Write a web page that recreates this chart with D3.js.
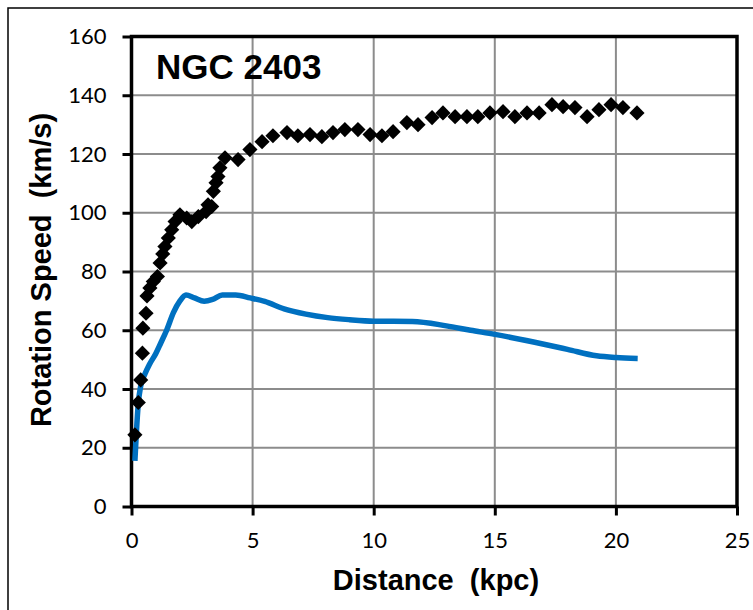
<!DOCTYPE html>
<html>
<head>
<meta charset="utf-8">
<script src="https://cdn.jsdelivr.net/npm/d3@7"></script>
<style>
  body { margin: 0; background: #fff; }
  text { font-family: "Liberation Sans", Arial, sans-serif; white-space: pre; }
</style>
</head>
<body>
<script>
// chart title
var title = "NGC 2403";

// observed rotation curve (diamonds): distance kpc, speed km/s
var obsDist = [0.14, 0.28, 0.38, 0.45, 0.47, 0.6, 0.64, 0.76, 0.9, 1.07, 1.18, 1.29, 1.38, 1.52, 1.66, 1.8, 2.0, 2.28, 2.49, 2.76, 3.08, 3.16, 3.31, 3.38, 3.49, 3.57, 3.65, 3.86, 4.4, 4.89, 5.39, 5.84, 6.42, 6.87, 7.37, 7.86, 8.32, 8.81, 9.35, 9.85, 10.34, 10.8, 11.37, 11.83, 12.41, 12.86, 13.36, 13.85, 14.3, 14.8, 15.34, 15.83, 16.33, 16.83, 17.36, 17.82, 18.31, 18.81, 19.3, 19.8, 20.29, 20.87];
var obsSpeed = [24.4, 35.4, 43.1, 52.2, 60.7, 65.8, 71.7, 74.4, 76.6, 78.3, 82.9, 86, 88.5, 91.4, 94.2, 97, 99.3, 98.2, 97, 98.7, 100.4, 102.7, 102.1, 107.3, 110.2, 112.3, 115.3, 118.7, 118.1, 121.5, 124.2, 126.2, 127.3, 126.2, 126.6, 125.9, 127.3, 128.3, 128.3, 126.6, 126.2, 127.6, 130.7, 130, 132.4, 134, 132.7, 132.7, 132.7, 134, 134.4, 132.7, 134, 134, 136.8, 136.1, 135.8, 132.7, 135.1, 136.8, 135.8, 134];

// model curve (blue line)
var modelDist = [0.14, 0.2, 0.28, 0.38, 0.55, 0.75, 1.0, 1.2, 1.45, 1.73, 2.0, 2.25, 2.6, 3.0, 3.35, 3.75, 4.3, 4.9, 5.5, 6.3, 7.2, 8.1, 9.0, 10.0, 11.6, 13.0, 14.0, 15.0, 16.6, 18.0, 19.2, 20.0, 20.9];
var modelSpeed = [15.5, 25, 35, 41, 45, 48.5, 52, 55.5, 60, 66, 70, 72, 71, 69.9, 70.5, 72, 72, 71, 69.8, 67.3, 65.5, 64.3, 63.6, 63.1, 63, 61.5, 60, 58.6, 56, 53.5, 51.3, 50.7, 50.4];

var xTicks = [0, 5, 10, 15, 20, 25];
var yTicks = [0, 20, 40, 60, 80, 100, 120, 140, 160];

var width = 753, height = 610;
var plotLeft = 131.5, plotRight = 737, plotTop = 36.5, plotBottom = 506.5;

var svg = d3.select("body").append("svg")
    .attr("width", width)
    .attr("height", height);

// outer frame
svg.append("rect")
    .attr("x", 8).attr("y", 8)
    .attr("width", 760).attr("height", 620)
    .attr("fill", "none")
    .attr("stroke", "#000")
    .attr("stroke-width", 1.5);

var x = d3.scaleLinear().domain([0, 25]).range([plotLeft, plotRight]);
var y = d3.scaleLinear().domain([0, 160]).range([plotBottom, plotTop]);

// gridlines
svg.append("g").selectAll("line")
    .data(xTicks.slice(1, -1))
    .enter().append("line")
    .attr("x1", function(d) { return x(d); })
    .attr("x2", function(d) { return x(d); })
    .attr("y1", plotTop).attr("y2", plotBottom)
    .attr("stroke", "#8c8c8c").attr("stroke-width", 2);

svg.append("g").selectAll("line")
    .data(yTicks.slice(1, -1))
    .enter().append("line")
    .attr("x1", plotLeft).attr("x2", plotRight)
    .attr("y1", function(d) { return y(d); })
    .attr("y2", function(d) { return y(d); })
    .attr("stroke", "#8c8c8c").attr("stroke-width", 2);

// axes
var xAxis = svg.append("g")
    .attr("transform", "translate(0," + plotBottom + ")")
    .call(d3.axisBottom(x).tickValues(xTicks).tickSize(9).tickPadding(17));
var yAxis = svg.append("g")
    .attr("transform", "translate(" + plotLeft + ",0)")
    .call(d3.axisLeft(y).tickValues(yTicks).tickSize(9).tickPadding(16));

[xAxis, yAxis].forEach(function(a) {
    a.select(".domain").remove();
    a.attr("font-size", null).attr("font-family", null);
    a.selectAll(".tick line").attr("stroke", "#000").attr("stroke-width", 3);
    a.selectAll(".tick text")
        .attr("fill", "#000")
        .style("font-family", "Lato, 'Open Sans', sans-serif")
        .style("font-size", "22px");
});

// plot box
svg.append("rect")
    .attr("x", plotLeft).attr("y", plotTop)
    .attr("width", plotRight - plotLeft).attr("height", plotBottom - plotTop)
    .attr("fill", "none")
    .attr("stroke", "#000")
    .attr("stroke-width", 3.5);

// model line
var modelData = modelDist.map(function(d, i) { return [d, modelSpeed[i]]; });
var line = d3.line()
    .x(function(d) { return x(d[0]); })
    .y(function(d) { return y(d[1]); })
    .curve(d3.curveMonotoneX);

svg.append("path")
    .datum(modelData)
    .attr("d", line)
    .attr("fill", "none")
    .attr("stroke", "#0070c0")
    .attr("stroke-width", 5.5)
    .attr("stroke-linejoin", "round");

// observed diamonds
var obsData = obsDist.map(function(d, i) { return [d, obsSpeed[i]]; });
var diamond = d3.symbol().type(d3.symbolSquare).size(115);

svg.append("g").selectAll("path")
    .data(obsData)
    .enter().append("path")
    .attr("d", diamond)
    .attr("transform", function(d) {
        return "translate(" + x(d[0]) + "," + y(d[1]) + ") rotate(45)";
    })
    .attr("fill", "#000");

// title and axis labels
svg.append("text")
    .attr("x", 156).attr("y", 79)
    .style("font-size", "35px")
    .style("font-weight", "bold")
    .text(title);

svg.append("text")
    .attr("x", 436).attr("y", 590)
    .attr("text-anchor", "middle")
    .style("font-size", "29px")
    .style("font-weight", "bold")
    .text("Distance  (kpc)");

svg.append("text")
    .attr("transform", "translate(51,270) rotate(-90)")
    .attr("text-anchor", "middle")
    .style("font-size", "29px")
    .style("font-weight", "bold")
    .text("Rotation Speed  (km/s)");
</script>
</body>
</html>
